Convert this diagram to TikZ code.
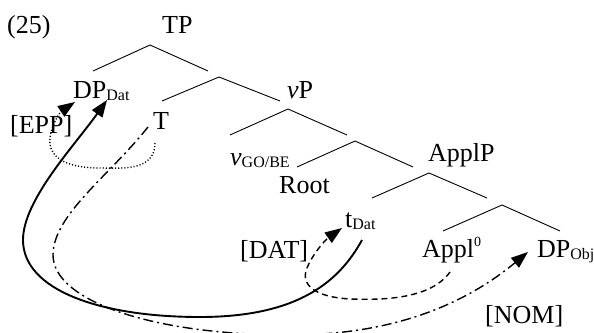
\documentclass[tikz,border=0pt]{standalone}
\usepackage{fontspec}
\setmainfont{Liberation Serif}
\usetikzlibrary{arrows.meta}
\newcommand\lsub[1]{\raisebox{-2pt}{\fontsize{16}{16}\selectfont #1}}
\newcommand\lsup[1]{\raisebox{11pt}{\fontsize{14}{14}\selectfont #1}}
\begin{document}
\begin{tikzpicture}[x=1pt,y=-1pt,
  lab/.style={anchor=base west, inner sep=0pt, font=\fontsize{26}{26}\selectfont},
  br/.style={line width=0.9pt},
  tipk/.style={-{Triangle[length=17pt,width=12.5pt]}},
  solidarr/.style={tipk, line width=1.9pt},
  dasharr/.style={tipk, line width=1.4pt, dash pattern=on 6pt off 4pt},
  dotarr/.style={tipk, line width=1.4pt, dash pattern=on 1.1pt off 2pt},
  dotdasharr/.style={tipk, line width=1.4pt, dash pattern=on 10pt off 4pt on 2pt off 4pt}]
\useasboundingbox (0,0) rectangle (594,332);
% labels
\node[lab] (num) at (7,33) {(25)};
\node[lab] (tp) at (162,33) {TP};
\node[lab] (dpdat) at (73,98) {DP\lsub{Dat}};
\node[lab] (epp) at (10,133) {[EPP]};
\node[lab] (t) at (153,129) {T};
\node[lab] (vp) at (287,98) {\textit{v}P};
\node[lab] (vgo) at (230,165) {\textit{v}\lsub{GO/BE}};
\node[lab] (root) at (279,193) {Root};
\node[lab] (applp) at (428,161) {ApplP};
\node[lab] (tdat) at (345,227) {t\lsub{Dat}};
\node[lab] (dat) at (240,258) {[DAT]};
\node[lab] (appl) at (422,257) {Appl\lsup{0}};
\node[lab] (dpobj) at (537,257) {DP\lsub{Obj}};
\node[lab] (nom) at (485,323) {[NOM]};
% tree branches
\coordinate (a1) at (150,45); \coordinate (a1l) at (93,71); \coordinate (a1r) at (208,71);
\coordinate (a2) at (219,77); \coordinate (a2l) at (162,101); \coordinate (a2r) at (280,101);
\coordinate (a3) at (288,109); \coordinate (a3l) at (230,135); \coordinate (a3r) at (347,135);
\coordinate (a4) at (355,141); \coordinate (a4l) at (297,167); \coordinate (a4r) at (413,167);
\coordinate (a5) at (429,173); \coordinate (a5l) at (372,198); \coordinate (a5r) at (487,198);
\coordinate (a6) at (502,205); \coordinate (a6l) at (443,231); \coordinate (a6r) at (560,231);
\foreach \n in {a1,a2,a3,a4,a5,a6}{
  \draw[br] (\n l) -- (\n) -- (\n r);
}
% arrow end points
\coordinate (s1) at (362,240); \coordinate (e1) at (107,100);
\coordinate (s2) at (148,127); \coordinate (e2) at (528,252);
\coordinate (s3) at (155,143); \coordinate (e3) at (75,102);
\coordinate (s4) at (450,272); \coordinate (e4) at (342,228);
% solid movement arrow t_Dat -> DP_Dat
\draw[solidarr] (s1) .. controls (340,280) and (300,317) .. (200,317)
  .. controls (100,317) and (23,290) .. (23,240)
  .. controls (23,200) and (75,145) .. (e1);
% dash-dot arrow T -> DP_Obj
\draw[dotdasharr] (s2) .. controls (110,175) and (53,215) .. (53,255)
  .. controls (53,300) and (150,335) .. (290,335)
  .. controls (400,335) and (470,300) .. (e2);
% dotted arrow T -> DP_Dat (EPP)
\draw[dotarr] (s3) .. controls (155,172) and (120,168) .. (100,168)
  .. controls (62,168) and (48,155) .. (50,138)
  .. controls (51,126) and (60,112) .. (e3);
% dashed arrow Appl0 -> t_Dat (DAT)
\draw[dasharr] (s4) .. controls (430,300) and (380,300) .. (350,299)
  .. controls (315,297) and (300,285) .. (307,268)
  .. controls (312,255) and (325,240) .. (e4);
\end{tikzpicture}
\end{document}
